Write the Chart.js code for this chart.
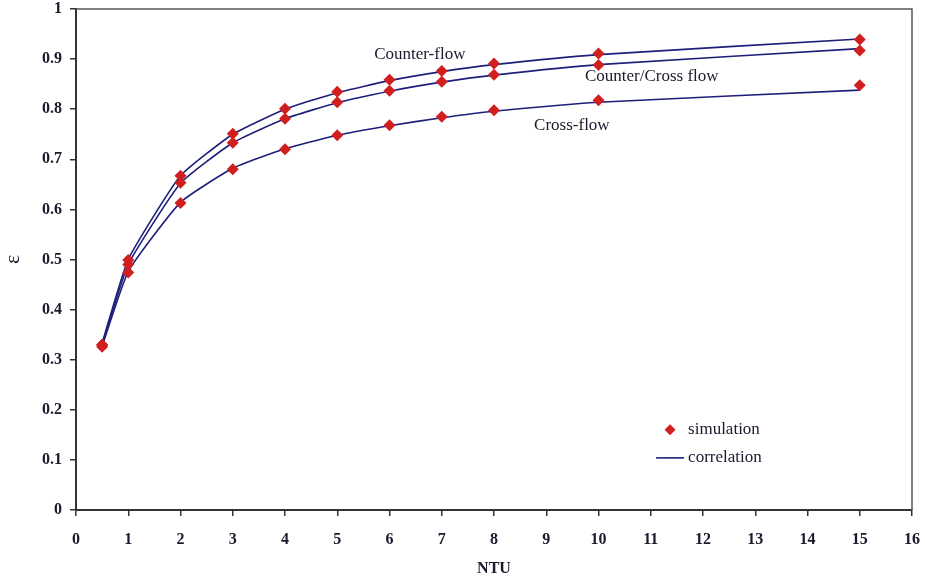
<!DOCTYPE html>
<html>
<head>
<meta charset="utf-8">
<script src="https://cdn.jsdelivr.net/npm/chart.js@4.4.1/dist/chart.umd.min.js"></script>
<style>
  html, body { margin: 0; padding: 0; background: #fff; }
  #wrap { width: 925px; height: 582px; }
</style>
</head>
<body>
<div id="wrap"><canvas id="chart"></canvas></div>
<script>
  const ntu = [0.5, 1, 2, 3, 4, 5, 6, 7, 8, 10, 15];

  // simulation points
  const simCounter = [0.33, 0.499, 0.667, 0.751, 0.801, 0.835, 0.859, 0.876, 0.891, 0.911, 0.939];
  const simCounterCross = [0.33, 0.49, 0.653, 0.733, 0.781, 0.814, 0.837, 0.855, 0.869, 0.888, 0.917];
  const simCross = [0.326, 0.474, 0.613, 0.68, 0.72, 0.748, 0.768, 0.785, 0.798, 0.818, 0.848];

  // correlation curves
  const corCounter = [0.333, 0.5, 0.667, 0.75, 0.8, 0.833, 0.857, 0.875, 0.889, 0.909, 0.94];
  const corCounterCross = [0.33, 0.49, 0.652, 0.733, 0.781, 0.813, 0.836, 0.854, 0.868, 0.889, 0.921];
  const corCross = [0.327, 0.476, 0.614, 0.682, 0.721, 0.748, 0.767, 0.783, 0.796, 0.814, 0.838];

  const curveLabels = [
    { text: 'Counter-flow', x: 6.58, y: 0.91 },
    { text: 'Counter/Cross flow', x: 11.02, y: 0.865 },
    { text: 'Cross-flow', x: 9.49, y: 0.767 }
  ];

  const xTicks = [0, 1, 2, 3, 4, 5, 6, 7, 8, 9, 10, 11, 12, 13, 14, 15, 16];
  const yTicks = [0, 0.1, 0.2, 0.3, 0.4, 0.5, 0.6, 0.7, 0.8, 0.9, 1];

  const pts = (ys) => ntu.map((x, i) => ({ x: x, y: ys[i] }));

  const red = '#d11f1f';
  const navy = '#1f1f7a';
  const serif = "'Liberation Serif', 'DejaVu Serif', serif";

  const simSet = (ys) => ({
    type: 'scatter',
    data: pts(ys),
    showLine: false,
    pointStyle: 'rectRot',
    pointRadius: 6,
    backgroundColor: red,
    borderColor: red,
    borderWidth: 0,
    order: 0
  });

  const corSet = (ys) => ({
    type: 'line',
    data: pts(ys),
    borderColor: navy,
    borderWidth: 1.6,
    pointRadius: 0,
    tension: 0.15,
    fill: false,
    order: 1
  });

  // frame, curve names and legend
  const decorations = {
    id: 'decorations',
    afterDraw(chart) {
      const { ctx, chartArea: a, scales: { x, y } } = chart;
      ctx.save();
      ctx.strokeStyle = '#555';
      ctx.lineWidth = 1.5;
      ctx.beginPath();
      ctx.moveTo(a.left, a.top);
      ctx.lineTo(a.right, a.top);
      ctx.lineTo(a.right, a.bottom);
      ctx.stroke();

      ctx.font = '17px ' + serif;
      ctx.fillStyle = '#1a1a2e';
      ctx.textAlign = 'center';
      ctx.textBaseline = 'middle';
      curveLabels.forEach(l => {
        ctx.fillText(l.text, x.getPixelForValue(l.x), y.getPixelForValue(l.y));
      });

      // legend
      const lx = x.getPixelForValue(11.37);
      const ly1 = y.getPixelForValue(0.16);
      const ly2 = y.getPixelForValue(0.104);
      ctx.fillStyle = red;
      ctx.beginPath();
      ctx.moveTo(lx, ly1 - 5.5);
      ctx.lineTo(lx + 5.5, ly1);
      ctx.lineTo(lx, ly1 + 5.5);
      ctx.lineTo(lx - 5.5, ly1);
      ctx.closePath();
      ctx.fill();
      ctx.strokeStyle = navy;
      ctx.lineWidth = 1.6;
      ctx.beginPath();
      ctx.moveTo(lx - 14, ly2);
      ctx.lineTo(lx + 14, ly2);
      ctx.stroke();
      ctx.fillStyle = '#1a1a2e';
      ctx.textAlign = 'left';
      ctx.fillText('simulation', lx + 18, ly1);
      ctx.fillText('correlation', lx + 18, ly2);
      ctx.restore();
    }
  };

  new Chart(document.getElementById('chart'), {
    type: 'scatter',
    data: {
      datasets: [
        corSet(corCounter), corSet(corCounterCross), corSet(corCross),
        simSet(simCounter), simSet(simCounterCross), simSet(simCross)
      ]
    },
    options: {
      responsive: true,
      maintainAspectRatio: false,
      animation: false,
      layout: { padding: { top: 9, right: 13, left: 0, bottom: 0 } },
      plugins: { legend: { display: false }, tooltip: { enabled: false } },
      scales: {
        x: {
          type: 'linear',
          min: 0,
          max: 16,
          afterBuildTicks: (s) => { s.ticks = xTicks.map(v => ({ value: v })); },
          afterFit: (s) => { s.height = 72; s.paddingLeft = 0; s.paddingRight = 0; },
          grid: { drawOnChartArea: false, drawTicks: true, tickLength: 6, color: '#333', lineWidth: 1.5 },
          border: { display: true, color: '#333', width: 2 },
          ticks: { color: '#1a1a2e', padding: 14, font: { family: serif, size: 16, weight: 'bold' } },
          title: { display: true, text: 'NTU', color: '#1a1a2e', padding: { top: 2 }, font: { family: serif, size: 16, weight: 'bold' } }
        },
        y: {
          type: 'linear',
          min: 0,
          max: 1,
          afterBuildTicks: (s) => { s.ticks = yTicks.map(v => ({ value: v })); },
          afterFit: (s) => { s.width = 76; s.paddingTop = 0; s.paddingBottom = 0; },
          grid: { drawOnChartArea: false, drawTicks: true, tickLength: 6, color: '#333', lineWidth: 1.5 },
          border: { display: true, color: '#333', width: 2 },
          ticks: { color: '#1a1a2e', padding: 8, font: { family: serif, size: 16, weight: 'bold' },
                   callback: (v) => String(Math.round(v * 10) / 10) },
          title: { display: true, text: 'ε', color: '#1a1a2e', padding: { top: 0, bottom: 4 }, font: { family: serif, size: 22 } }
        }
      }
    },
    plugins: [decorations]
  });
</script>
</body>
</html>
